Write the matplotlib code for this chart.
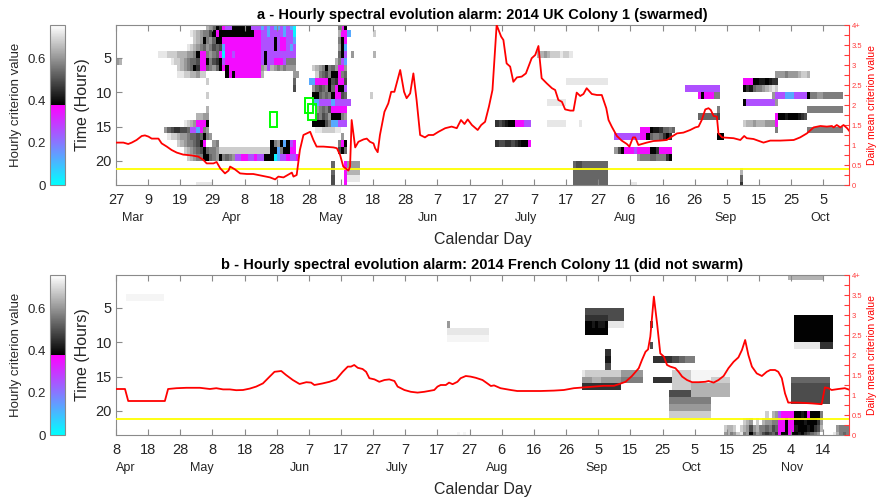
import datetime as dt
import numpy as np
import matplotlib
matplotlib.use("Agg")
import matplotlib.pyplot as plt
from matplotlib.colors import ListedColormap
from matplotlib.patches import Rectangle
import matplotlib.transforms as mtransforms

plt.rcParams['font.family'] = ['Liberation Sans', 'DejaVu Sans']

# ---------------- data ----------------
TOP_START = dt.date(2014, 2, 27)
BOT_START = dt.date(2014, 4, 8)
N_DAYS = 228
TOP_TITLE = "a - Hourly spectral evolution alarm: 2014 UK Colony 1 (swarmed)"
BOT_TITLE = "b - Hourly spectral evolution alarm: 2014 French Colony 11 (did not swarm)"
MONTH_NAMES = {3: "Mar", 4: "Apr", 5: "May", 6: "Jun", 7: "July", 8: "Aug",
               9: "Sep", 10: "Oct", 11: "Nov"}

# hourly criterion value codes (legend for the row strings below)
VALUE_CODE = {'c': 0.02, 'b': 0.13, 'p': 0.26, 'm': 0.36, 'k': 0.385, 'w': 0.745,
              '1': 0.418, '2': 0.456, '3': 0.494, '4': 0.532, '5': 0.57,
              '6': 0.608, '7': 0.646, '8': 0.684, '9': 0.722}

# (hour row, first day index, per-day codes)
TOP_ROWS = [
    (0, 28, "764k" + "2mpp" + "kkkkkk" + "ppp" + "bpbpbbpbpb" + "c"),
    (1, 23, "9876553km" + "kkkkkkkkkkk" + "mm" + "ppbppppbpp" + "c"),
    (2, 24, "876k564k" + "km" + "mmmmmmmmmmm" + "pppp" + "k" + "p" + "mm" + "pp" + "b"),
    (3, 22, "9876546534" + "3b" + "mmmmmmmmmmm" + "pppp" + "k" + "p" + "mm" + "p" + "b" + "p"),
    (4, 13, "999888777665" + "kmm5654" + "mcmmp" + "mmmmmmmm" + "pk" + "pppppppp" + "p"),
    (5, 17, "988765443" + "mmk532" + "kp" + "mmmmmmmmmmm" + "pk" + "pp" + "mmm" + "p" + "555"),
    (6, 19, "87654k2mm4564" + "kmk" + "mmmmmmmmmm" + "67p76565" + "666"),
    (7, 19, "998877688" + "      " + "kmk" + "mmmmmmmm" + "7" + "         " + "66"),
    (8, 55, "4"), (9, 55, "3"), (8, 28, "8"), (10, 28, "8"), (12, 28, "7"),
    (5, 0, "67"),
    (0, 69, "5mk"), (1, 69, "7mmb"), (2, 69, "5km"), (3, 69, "6kb"), (4, 69, "4kp"),
    (5, 68, "75pb"),
    (6, 61, "8765k546mm6"),
    (7, 62, "85435kkm54"),
    (8, 60, "bbmmmmk32mm3"),
    (9, 61, "64345k4mkkp"),
    (10, 61, "kk4545kmm34"),
    (11, 61, "bbppppbppppp"),
    (12, 62, "65453mmmmm"),
    (13, 62, "45346kkk56"),
    (14, 61, "kkkk35bbppp"),
    (15, 62, "99888899"),
    (16, 70, "6"), (17, 69, "5mk"), (18, 69, "3k4"),
    (13, 25, "7766"),
    (14, 21, "9876mmmk"),
    (15, 15, "64322334ppbm56"),
    (16, 16, "98876654434k56"),
    (17, 19, "8765543km  65" + " " * 16 + "k56kbkpm"),
    (18, 21, "87654 3k4556".replace(" ", "") + "8888888888888888" + "kkb5kkmm"),
    (19, 22, "87655kk456k" + "5456" + "ppmmppmpp" + "kkk" + "cb" + "ppmppm"),
    (20, 67, "4"), (21, 67, "4"), (22, 67, "3"), (23, 67, "3"),
    (20, 71, "m"), (21, 71, "m"), (22, 71, "m"), (23, 71, "m"),
    (20, 72, "6666"), (21, 72, "7777"), (22, 72, "9999"),
    (23, 25, "99999"),
    (1, 80, "8"), (4, 80, "7"), (10, 79, "8"), (4, 73, "6"),
    (14, 118, "2321kkmmmpp"),
    (17, 118, "23322321kkm"),
    (4, 131, "77678889889"),
    (8, 140, "9999999999999"),
    (11, 134, "999999"),
    (14, 134, "999999    9"),
    (20, 142, "43344444444"), (21, 142, "44444444444"),
    (22, 142, "44444444444"), (23, 142, "44444444444"),
    (15, 163, "mmmk1124454"),
    (16, 155, "pppppppp" + "mmk4554" + "2k2"),
    (18, 155, "63k" + "mmmpmmmm" + "kk2" + "mmmm"),
    (19, 162, "6555445552k"),
    (23, 160, "99"),
    (9, 177, "ppppppppppp"),
    (10, 181, "mkmmm55"),
    (12, 187, "5"),
    (13, 181, "4444443"),
    (16, 187, "kk"),
    (21, 194, "7"), (22, 194, "4"), (23, 194, "2"),
    (7, 205, "66656667887"),
    (8, 195, "mmmkk11k122"),
    (9, 195, "k2145567898"),
    (10, 204, "6" + "pppbbbpppp" + "k" + "5566555555"),
    (11, 195, "k" + "ppppppppp" + "6"),
    (12, 215, "55555555555"),
    (13, 205, "mkk1kkk123"),
    (14, 195, "8776777666m"),
    (15, 205, "5"), (15, 215, "55555555555"),
]

BOT_ROWS = [
    (3, 3, "wwwwwwwwwwww"),
    (7, 103, "6"),
    (8, 103, "9999999999999"),
    (9, 103, "wwwwwwwwwwwww"),
    (23, 106, "w w"),
    (5, 146, "333333333333"),
    (6, 146, "2222222" + "33333"),
    (7, 146, "kk1k11k" + "99999"),
    (8, 146, "kkkkkkk"),
    (11, 152, "22"), (12, 152, "11"), (13, 152, "33"),
    (14, 145, "988888888888" + "6666666"),
    (15, 145, "666777666666" + "5555555"),
    (16, 145, "222222222222"),
    (7, 166, "3"), (10, 166, "3"),
    (12, 167, "2222223344555"),
    (15, 167, "222222"),
    (14, 173, "888888" + "wwwwwwwwwwww"),
    (15, 173, "888888" + "wwwwww" + "888888"),
    (16, 173, "888888" + "777777777777"),
    (17, 172, "3333333" + "777777777777"),
    (18, 172, "5555555555555"),
    (19, 172, "6666666666666"),
    (20, 172, "8888888888888"),
    (6, 211, "kkkkkkkkkkkk"), (7, 211, "kkkkkkkkkkkk"),
    (8, 211, "kkkkkkkkkkkk"), (9, 211, "kkkkkkkkkkkk"),
    (10, 211, "99999999" + "2222"),
    (15, 210, "444444444444"), (16, 210, "333333333333"),
    (17, 210, "333333333333"), (18, 210, "333333333333"),
    (0, 209, "77777777777"),
    (23, 189, "67568956k46532342"),
    (22, 189, "8778 876367554534"),
    (21, 195, "876 8 76655"),
    (20, 202, "8 76"),
    (20, 206, "pmmmmkk1kmkkk5"),
    (21, 206, "mmkmmkkk1kkk26"),
    (22, 206, "mmkmm1kkk1k237"),
    (23, 206, "mkkmkk1k23456"),
    (22, 224, "6555"), (23, 223, "97545"),
]

# daily mean criterion value (day index, value)
TOP_LINE = [
    (0, 1.06), (2.3, 1.06), (3.8, 1.025), (4.9, 1.06), (6.4, 1.125), (8.0, 1.225),
    (9.0, 1.24), (10.1, 1.21), (11.1, 1.16), (13.2, 1.16), (14.2, 1.04), (15.8, 0.96),
    (17.3, 0.875), (18.9, 0.81), (20.9, 0.76), (23.5, 0.74), (25.6, 0.71), (27.2, 0.625),
    (28.2, 0.54), (30.3, 0.54), (31.3, 0.575), (32.4, 0.42), (33.9, 0.29), (35.0, 0.36),
    (35.5, 0.46), (37.0, 0.39), (38.6, 0.29), (40.7, 0.275), (42.7, 0.275), (45.8, 0.225),
    (47.9, 0.19), (49.5, 0.14), (50.5, 0.21), (52.1, 0.19), (53.6, 0.26), (54.7, 0.31),
    (55.2, 0.21), (56.2, 0.25), (57.2, 0.875), (58.3, 1.25), (60.4, 1.33), (61.4, 1.125),
    (62.4, 0.96), (64.5, 0.96), (67.6, 0.94), (68.7, 0.92), (69.7, 0.75), (70.7, 0.46),
    (71.8, 0.39), (72.3, 0.36), (72.8, 0.46), (73.3, 1.625), (74.4, 0.94), (75.4, 1.08),
    (77.0, 1.14), (78.0, 1.16), (79.0, 1.08), (80.1, 1.04), (80.6, 0.92), (81.4, 0.82),
    (82.1, 1.25), (83.5, 1.83), (84.7, 2.04), (85.6, 2.33), (86.6, 2.33), (88.4, 2.875),
    (89.6, 2.33), (90.4, 2.17), (91.5, 2.29), (92.5, 2.79), (93.5, 2.125), (94.6, 1.25),
    (96.1, 1.19), (97.2, 1.25), (98.7, 1.25), (100.3, 1.33), (102.4, 1.42), (104.4, 1.46),
    (106.0, 1.42), (107.3, 1.625), (108.4, 1.525), (109.4, 1.64), (110.7, 1.5),
    (112.5, 1.375), (113.6, 1.5), (114.8, 1.58), (116.0, 1.96), (117.1, 2.375),
    (118.4, 4.0), (119.8, 3.71), (120.5, 3.625), (121.5, 3.04), (122.6, 2.96),
    (123.6, 2.58), (124.7, 2.69), (126.2, 2.71), (127.5, 2.79), (129.3, 3.17),
    (130.4, 3.25), (131.4, 3.475), (132.4, 2.67), (134.0, 2.54), (135.6, 2.42),
    (136.6, 2.375), (137.6, 2.125), (138.7, 2.08), (139.7, 1.89), (141.3, 1.86),
    (142.3, 1.86), (143.3, 2.31), (144.4, 2.225), (145.4, 2.275), (146.4, 2.42),
    (148.0, 2.275), (149.6, 2.25), (151.1, 2.25), (152.5, 1.92), (153.2, 1.625),
    (154.2, 1.46), (155.8, 1.225), (157.3, 1.11), (158.9, 1.025), (159.7, 0.96),
    (160.8, 1.19), (161.5, 1.19), (162.5, 1.0), (163.6, 1.025), (165.1, 1.06),
    (167.2, 1.1), (169.3, 1.11), (171.3, 1.125), (172.9, 1.21), (174.5, 1.29),
    (176.5, 1.31), (178.6, 1.375), (180.2, 1.44), (181.2, 1.46), (182.2, 1.625),
    (183.3, 1.89), (184.3, 1.92), (185.0, 1.875), (185.9, 1.725), (186.9, 1.71),
    (187.4, 1.29), (188.5, 1.19), (192.1, 1.17), (194.2, 1.125), (195.4, 1.225),
    (196.2, 1.17), (198.3, 1.15), (201.4, 1.06), (203.5, 1.11), (206.6, 1.11),
    (210.8, 1.125), (212.8, 1.19), (214.9, 1.29), (217.0, 1.44), (219.1, 1.475),
    (221.1, 1.46), (222.7, 1.475), (223.2, 1.44), (224.2, 1.5), (225.3, 1.44),
    (226.3, 1.5), (227.4, 1.42), (228.0, 1.36),
]

BOT_LINE = [
    (0, 1.15), (2.8, 1.15), (3.8, 0.85), (15.2, 0.85), (16.2, 1.15), (18.8, 1.17),
    (21.9, 1.18), (26.1, 1.18), (29.2, 1.15), (31.2, 1.17), (33.3, 1.14), (35.4, 1.14),
    (37.4, 1.12), (39.5, 1.125), (41.6, 1.16), (43.6, 1.21), (45.7, 1.29), (47.8, 1.46),
    (49.3, 1.58), (51.4, 1.6), (52.9, 1.5), (55.0, 1.375), (57.1, 1.275), (59.2, 1.32),
    (60.7, 1.31), (61.7, 1.25), (64.3, 1.29), (66.4, 1.33), (68.5, 1.39), (70.5, 1.58),
    (72.1, 1.71), (73.1, 1.71), (74.1, 1.75), (75.2, 1.68), (76.7, 1.65), (77.8, 1.58),
    (78.8, 1.42), (80.4, 1.39), (81.9, 1.33), (83.5, 1.375), (85.0, 1.39), (86.6, 1.35),
    (87.6, 1.21), (89.7, 1.125), (91.7, 1.08), (93.8, 1.06), (95.9, 1.08), (99.0, 1.125),
    (100.0, 1.21), (101.0, 1.25), (102.6, 1.25), (103.6, 1.31), (104.7, 1.27),
    (106.2, 1.33), (107.2, 1.42), (108.8, 1.475), (110.3, 1.46), (111.9, 1.43),
    (114.0, 1.375), (115.5, 1.29), (116.6, 1.225), (117.6, 1.24), (119.6, 1.17),
    (122.8, 1.125), (124.8, 1.1), (127.9, 1.1), (132.1, 1.1), (136.2, 1.11),
    (139.3, 1.125), (142.4, 1.17), (145.5, 1.19), (148.6, 1.21), (151.7, 1.23),
    (154.9, 1.23), (156.4, 1.27), (158.5, 1.33), (160.5, 1.475), (162.6, 1.67),
    (163.6, 1.875), (164.7, 2.08), (165.5, 2.14), (166.2, 2.46), (167.3, 3.46),
    (168.3, 2.79), (169.3, 2.04), (170.4, 1.96), (171.4, 1.75), (172.4, 1.71),
    (174.0, 1.67), (175.0, 1.58), (176.1, 1.46), (177.6, 1.375), (179.2, 1.32),
    (181.2, 1.32), (183.3, 1.33), (184.3, 1.35), (185.9, 1.31), (187.4, 1.375),
    (189.0, 1.475), (190.5, 1.67), (192.1, 1.83), (193.6, 1.94), (194.7, 2.125),
    (195.7, 2.375), (196.7, 2.0), (197.8, 1.71), (199.3, 1.54), (200.9, 1.475),
    (202.4, 1.58), (203.5, 1.625), (205.0, 1.625), (206.0, 1.58), (207.1, 1.42),
    (208.1, 1.04), (209.1, 0.81), (212.2, 0.81), (216.4, 0.79), (219.5, 0.77),
    (220.5, 1.19), (221.6, 1.17), (222.6, 1.125), (224.7, 1.15), (226.7, 1.17),
    (227.8, 1.14),
]

THRESHOLD = 0.4
# swarm markers: (day index, top hour, width days, height hours)
TOP_BOXES = [(47.9, 12.9, 2.3, 2.2), (58.8, 10.8, 2.4, 2.2), (59.8, 11.8, 2.4, 2.2)]

CB_TICKS = [0, 0.2, 0.4, 0.6]
CB_LABELS = ["0", "0.2", "0.4", "0.6"]
R_TICKS = [i * 0.25 for i in range(17)]
R_LABELS = ["0", "", "0.5", "", "1", "", "1.5", "", "2", "", "2.5", "", "3", "", "3.5", "", "4+"]
Y_TICKS = [5, 10, 15, 20]

# ---------------- styling ----------------
VMAX = 0.76
n = 128
t = np.linspace(0, 1, n)
cool = np.column_stack([t, 1 - t, np.ones(n)])
gray = np.column_stack([t, t, t])
CMAP = ListedColormap(np.vstack([cool, gray]))

SPINE = '#8a8a8a'
TXT = '#262626'
RED_AX = '#ff3b3b'

fig = plt.figure(figsize=(8.78, 5.0), dpi=100)


def build_grid(rows):
    Z = np.full((24, N_DAYS), np.nan)
    for hr, d0, s in rows:
        for i, ch in enumerate(s):
            if ch != ' ' and 0 <= d0 + i < N_DAYS:
                Z[hr, d0 + i] = VALUE_CODE[ch]
    return np.ma.masked_invalid(Z)


def panel(bottom, rows, line, start, title, boxes):
    ax = fig.add_axes([116 / 878, bottom, 733 / 878, 0.32])
    Z = build_grid(rows)
    mesh = ax.pcolormesh(np.arange(N_DAYS + 1), np.arange(25), Z, cmap=CMAP,
                         vmin=0, vmax=VMAX, shading='flat', antialiased=False)
    ax.set_xlim(0, N_DAYS)
    ax.set_ylim(23.5, 0.25)
    for (bx, by, bw, bh) in boxes:
        ax.add_patch(Rectangle((bx, by), bw, bh, fill=False, edgecolor=(0, 1, 0), lw=1.4, zorder=5))

    xt = list(range(0, N_DAYS, 10))
    ax.set_xticks(xt)
    ax.set_xticklabels([str((start + dt.timedelta(days=d)).day) for d in xt])
    ax.set_yticks(Y_TICKS)
    ax.set_yticklabels([str(v) for v in Y_TICKS])
    ax.tick_params(axis='x', direction='in', length=4, top=True, color=SPINE,
                   labelsize=10.5, labelcolor=TXT, pad=6)
    ax.tick_params(axis='y', direction='in', length=4, color=SPINE,
                   labelsize=10.5, labelcolor=TXT, pad=3)
    for sp in ['left', 'top', 'bottom']:
        ax.spines[sp].set_color(SPINE)
    ax.spines['right'].set_visible(False)
    ax.set_ylabel("Time (Hours)", fontsize=11.5, color=TXT, labelpad=4)
    ax.set_title(title, fontsize=10.5, fontweight='bold', color='black', pad=4)

    trans = mtransforms.blended_transform_factory(ax.transData, ax.transAxes)
    end = start + dt.timedelta(days=N_DAYS)
    m = dt.date(start.year, start.month, 1)
    while m < end:
        off = max((m - start).days, 0)
        name = MONTH_NAMES.get(m.month)
        if name is not None and (m >= start or start.day < 15):
            ax.text(off, -0.205, name, transform=trans, ha='left',
                    va='center', fontsize=9, color=TXT)
        m = dt.date(m.year + (m.month == 12), m.month % 12 + 1, 1)
    ax.text(0.5, -0.34, "Calendar Day", transform=ax.transAxes, ha='center',
            va='center', fontsize=11.5, color=TXT)

    ax2 = ax.twinx()
    ld = [p[0] for p in line]
    lv = [min(p[1], 4.0) for p in line]
    ax2.axhline(THRESHOLD, color=(1, 1, 0), lw=1.3)
    ax2.plot(ld, lv, color='red', lw=1.3)
    ax2.set_ylim(0, 4)
    ax2.set_xlim(0, N_DAYS)
    ax2.set_yticks(R_TICKS)
    ax2.set_yticklabels(R_LABELS)
    ax2.tick_params(axis='y', direction='in', length=3.5, color=RED_AX,
                    labelsize=5.5, labelcolor=RED_AX, pad=2)
    for sp in ['left', 'top', 'bottom']:
        ax2.spines[sp].set_visible(False)
    ax2.spines['right'].set_color(RED_AX)
    ax2.set_ylabel("Daily mean criterion value", fontsize=7.5, color='red', labelpad=3)

    cax = fig.add_axes([50 / 878, bottom, 15 / 878, 0.32])
    cb = fig.colorbar(mesh, cax=cax)
    cb.set_ticks(CB_TICKS)
    cb.set_ticklabels(CB_LABELS)
    cax.yaxis.set_ticks_position('left')
    cax.yaxis.set_label_position('left')
    cax.tick_params(length=0, labelsize=9.5, labelcolor=TXT, pad=3)
    cb.outline.set_edgecolor(SPINE)
    cb.set_label("Hourly criterion value", fontsize=9.5, color=TXT, labelpad=4)
    return ax


panel(0.63, TOP_ROWS, TOP_LINE, TOP_START, TOP_TITLE, TOP_BOXES)
panel(0.13, BOT_ROWS, BOT_LINE, BOT_START, BOT_TITLE, [])

fig.savefig("out.png", dpi=100)
